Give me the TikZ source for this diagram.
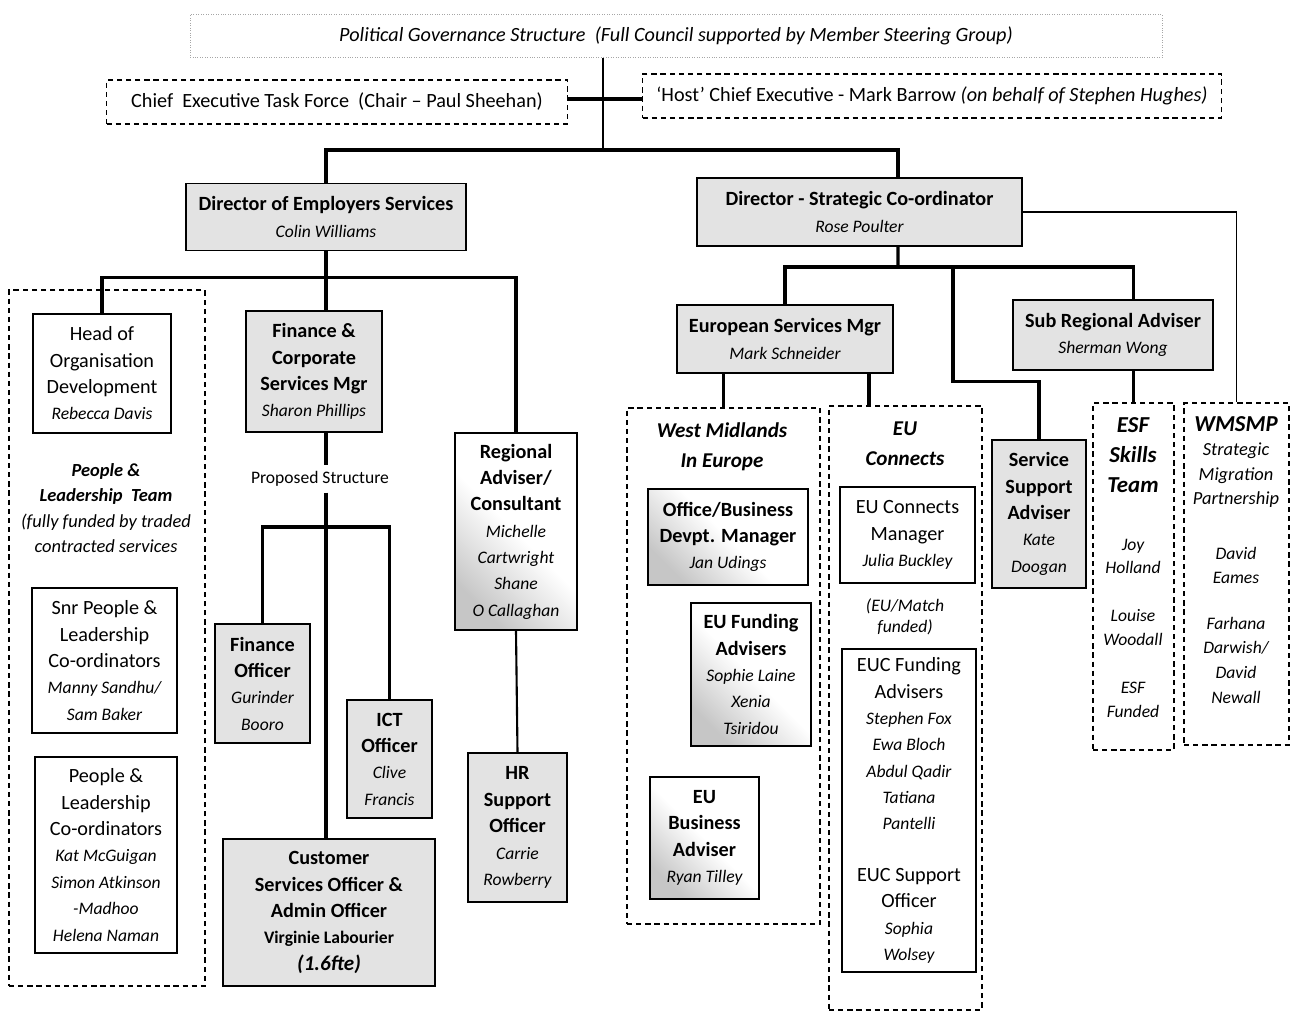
\documentclass[tikz,border=0pt]{standalone}
\usepackage{fontspec}
\setmainfont{Carlito}
\usepackage{tikz}
\usetikzlibrary{calc}

\newcommand{\who}[1]{{\fontsize{10}{15}\selectfont\itshape #1}}

\begin{document}
\begin{tikzpicture}[x=0.02cm,y=-0.02cm,
    font=\fontsize{11.5}{15}\selectfont,
    box/.style={draw,line width=1pt,align=center,inner sep=1pt},
    grey/.style={box,fill=gray!22},
    blank/.style={box,fill=white},
    fade/.style={box,top color=white,bottom color=gray!45,middle color=white,shading angle=-45},
    team/.style={draw,line width=0.9pt,dash pattern=on 3pt off 2.2pt},
    teamname/.style={align=center,font=\fontsize{12}{17}\selectfont\bfseries\itshape},
    link/.style={line width=1.8pt},
    wire/.style={line width=0.9pt}]

  \useasboundingbox (0,0) rectangle (1302,1012);

  % Gouvernance
  \node[draw=gray!70,densely dotted,minimum width=19.44cm,minimum height=0.86cm,
        font=\fontsize{11.5}{15}\selectfont\itshape] (pol) at (676,36)
        {Political Governance Structure\ \ (Full Council supported by Member Steering Group)};
  \node[team,minimum width=9.22cm,minimum height=0.88cm] (cetf) at (337,102)
        {Chief\ \ Executive Task Force\ \ (Chair -- Paul Sheehan)};
  \node[team,minimum width=11.58cm,minimum height=0.88cm] (host) at (932,96)
        {‘Host’ Chief Executive - Mark Barrow \textit{(on behalf of Stephen Hughes)}};

  \coordinate (hub) at (603,99);
  \coordinate (top) at (603,150);
  \draw[line width=1.1pt] (pol.south -| hub) -- (top);
  \draw[line width=2.6pt] (cetf.east |- hub) -- (host.west |- hub);

  % Directeurs
  \node[grey,minimum width=5.6cm,minimum height=1.34cm] (des) at (326,217)
        {\textbf{Director of Employers Services}\\\who{Colin Williams}};
  \node[grey,minimum width=6.5cm,minimum height=1.36cm] (dsc) at (859.5,212)
        {\textbf{Director - Strategic Co-ordinator}\\\who{Rose Poulter}};
  \draw[link] (des.north) |- (top) -| ($(dsc.north)+(38.5,0)$);

  % Employers Services
  \node[team,minimum width=3.92cm,minimum height=13.92cm] (lt) at (107,638) {};
  \node[blank,minimum width=2.76cm,minimum height=2.38cm] (head) at (102,373.5)
        {Head of\\Organisation\\Development\\\who{Rebecca Davis}};
  \node[align=center,font=\fontsize{10.5}{14.5}\selectfont\itshape] (plt) at (106,508)
        {\textbf{People \&}\\\textbf{Leadership\ \ Team}\\(fully funded by traded\\contracted services};
  \node[blank,minimum width=2.9cm,minimum height=2.9cm] (snr) at (104.5,660.5)
        {Snr People \&\\Leadership\\Co-ordinators\\\who{Manny Sandhu/}\\\who{Sam Baker}};
  \node[blank,minimum width=2.84cm,minimum height=3.92cm] (plc) at (106,855)
        {People \&\\Leadership\\Co-ordinators\\\who{Kat McGuigan}\\\who{Simon Atkinson}\\\who{-Madhoo}\\\who{Helena Naman}};

  \node[grey,minimum width=2.72cm,minimum height=2.42cm] (fin) at (314,371.5)
        {\textbf{Finance \&}\\\textbf{Corporate}\\\textbf{Services Mgr}\\\who{Sharon Phillips}};
  \node[fade,minimum width=2.44cm,minimum height=3.94cm] (reg) at (516,531.5)
        {\textbf{Regional}\\\textbf{Adviser/}\\\textbf{Consultant}\\\who{Michelle}\\\who{Cartwright}\\\who{Shane}\\\who{O Callaghan}};
  \node[grey,minimum width=1.98cm,minimum height=2.98cm] (hr) at (517.5,827.5)
        {\textbf{HR}\\\textbf{Support}\\\textbf{Officer}\\\who{Carrie}\\\who{Rowberry}};

  \node[font=\fontsize{10}{12}\selectfont] (prop) at (320,479) {Proposed Structure};
  \node[grey,minimum width=1.9cm,minimum height=2.38cm] (finoff) at (262.5,683.5)
        {\textbf{Finance}\\\textbf{Officer}\\\who{Gurinder}\\\who{Booro}};
  \node[grey,minimum width=1.7cm,minimum height=2.36cm] (ict) at (389.5,759)
        {\textbf{ICT}\\\textbf{Officer}\\\who{Clive}\\\who{Francis}};
  \node[grey,minimum width=4.24cm,minimum height=2.94cm] (cust) at (329,912.5)
        {\textbf{Customer}\\\textbf{Services Officer \&}\\\textbf{Admin Officer}\\
         {\fontsize{10}{15}\selectfont\bfseries Virginie Labourier}\\{\fontsize{12}{15}\selectfont\bfseries\itshape (1.6fte)}};

  \coordinate (fh) at (326,527);
  \draw[link] (head.north) |- ($(des.south)+(0,26)$) -| (reg.north);
  \draw[link] (des.south) -- (des.south |- fin.north);
  \draw[link] (des.south |- fin.south) -- (des.south |- prop.north);
  \draw[link] (des.south |- prop.south) -- (des.south |- cust.north);
  \draw[link] (finoff.north) |- (fh) -| (ict.north);
  \draw[line width=1.2pt] (reg.south) -- (hr.north);

  % Strategic Co-ordinator
  \node[grey,minimum width=4.32cm,minimum height=1.36cm] (esm) at (785,339)
        {\textbf{European Services Mgr}\\\who{Mark Schneider}};
  \node[grey,minimum width=4cm,minimum height=1.4cm] (sra) at (1113,335)
        {\textbf{Sub Regional Adviser}\\\who{Sherman Wong}};
  \node[team,minimum width=3.86cm,minimum height=10.32cm] (wmie) at (723.5,666) {};
  \node[team,minimum width=3.06cm,minimum height=12.08cm] (euc) at (905.5,708) {};
  \node[team,minimum width=1.62cm,minimum height=6.94cm] (esf) at (1133.5,576.5) {};
  \node[team,minimum width=2.1cm,minimum height=6.84cm] (wm) at (1236.5,574) {};
  \node[grey,minimum width=1.88cm,minimum height=2.96cm] (svc) at (1039,514)
        {\textbf{Service}\\\textbf{Support}\\\textbf{Adviser}\\\who{Kate}\\\who{Doogan}};

  \coordinate (rh) at (898,267);
  \draw[link] ($(dsc.south)+(38.5,0)$) -- (rh);
  \draw[link] (esm.north) |- (rh) -| (esf.north |- sra.north);
  \draw[link] (esf.north |- sra.south) -- (esf.north);
  \draw[link] ($(rh)+(55,0)$) |- ($(svc.north)+(0,-58)$) -- (svc.north);
  \draw[wire] (dsc.east) -| (wm.north);
  \draw[link] (wmie.north |- esm.south) -- (wmie.north);
  \draw[link] ($(esm.south)+(84,0)$) coordinate (e1) -- (e1 |- euc.north);

  % West Midlands in Europe
  \node[teamname] (wmiet) at (722,447) {West Midlands\\In Europe};
  \node[fade,minimum width=3.2cm,minimum height=1.92cm] (obd) at (728,537)
        {\textbf{Office/Business}\\\textbf{Devpt. Manager}\\\who{Jan Udings}};
  \node[fade,minimum width=2.4cm,minimum height=2.86cm] (euf) at (751,674.5)
        {\textbf{EU Funding}\\\textbf{Advisers}\\\who{Sophie Laine}\\\who{Xenia}\\\who{Tsiridou}};
  \node[fade,minimum width=2.18cm,minimum height=2.44cm] (eub) at (704.5,838)
        {\textbf{EU}\\\textbf{Business}\\\textbf{Adviser}\\\who{Ryan Tilley}};

  % EU Connects
  \node[teamname] (euct) at (905,444) {EU\\Connects};
  \node[blank,minimum width=2.7cm,minimum height=1.92cm] (eucm) at (907.5,535)
        {EU Connects\\Manager\\\who{Julia Buckley}};
  \node[align=center,font=\fontsize{10}{12}\selectfont\itshape] (match) at (905,617)
        {(EU/Match\\funded)};
  \node[blank,minimum width=2.68cm,minimum height=6.46cm] (eucf) at (909,810.5)
        {EUC Funding\\Advisers\\\who{Stephen Fox}\\\who{Ewa Bloch}\\\who{Abdul Qadir}\\\who{Tatiana}\\\who{Pantelli}\\[0.5cm]
         EUC Support\\Officer\\\who{Sophia}\\\who{Wolsey}};

  % ESF et WMSMP
  \node[teamname,font=\fontsize{13}{17}\selectfont\bfseries\itshape] (esft) at (1133,455) {ESF\\Skills\\Team};
  \node[align=center,font=\fontsize{10}{13.3}\selectfont\itshape] (esfn) at (1133,628)
        {Joy\\Holland\\[0.5cm]Louise\\Woodall\\[0.5cm]ESF\\Funded};
  \node[align=center,font=\fontsize{10.5}{14}\selectfont\itshape] (wmt) at (1236,462)
        {{\fontsize{13}{15}\selectfont\bfseries WMSMP}\\Strategic\\Migration\\Partnership};
  \node[align=center,font=\fontsize{10}{14}\selectfont\itshape] (wmn) at (1236,625)
        {David\\Eames\\[0.42cm]Farhana\\Darwish/\\David\\Newall};
\end{tikzpicture}
\end{document}
